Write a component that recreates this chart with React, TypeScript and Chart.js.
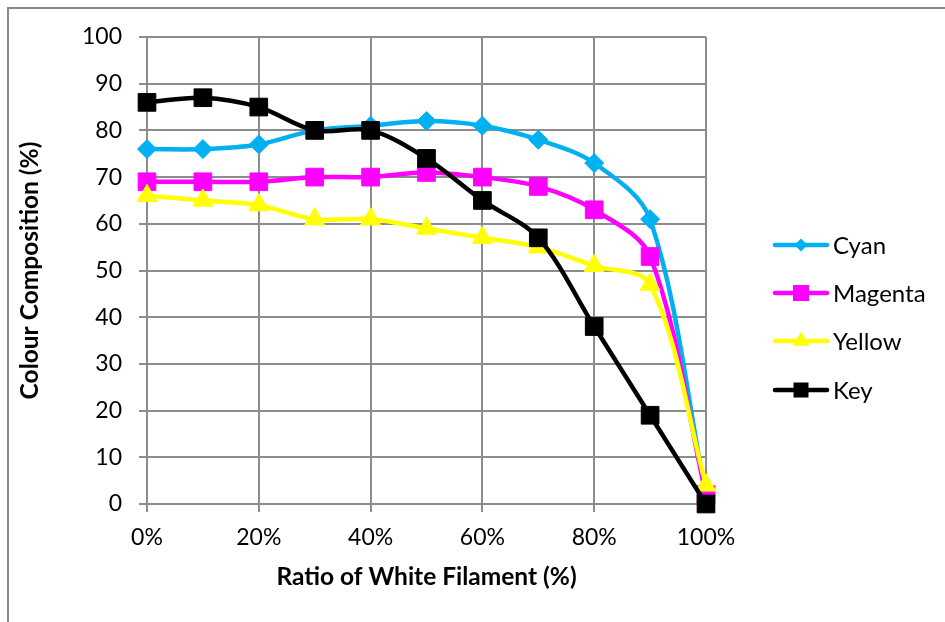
import React, { useEffect, useRef } from "react";
import { Chart, registerables } from "chart.js";

Chart.register(...registerables);

const ratios = [0, 10, 20, 30, 40, 50, 60, 70, 80, 90, 100];
const cyan = [76, 76, 77, 80, 81, 82, 81, 78, 73, 61, 2];
const magenta = [69, 69, 69, 70, 70, 71, 70, 68, 63, 53, 2];
const yellow = [66, 65, 64, 61, 61, 59, 57, 55, 51, 47, 4];
const key = [86, 87, 85, 80, 80, 74, 65, 57, 38, 19, 0];
const seriesNames = ["Cyan", "Magenta", "Yellow", "Key"];
const xTitle = "Ratio of White Filament (%)";
const yTitle = "Colour Composition (%)";

const FONT = "Lato, 'Open Sans', sans-serif";
const GRID = "#8c8c8c";

function drawMarker(ctx: CanvasRenderingContext2D, style: string, x: number, y: number, r: number) {
  ctx.beginPath();
  if (style === "rectRot") {
    ctx.moveTo(x - r, y);
    ctx.lineTo(x, y - r);
    ctx.lineTo(x + r, y);
    ctx.lineTo(x, y + r);
  } else if (style === "rect") {
    ctx.rect(x - r, y - r, 2 * r, 2 * r);
  } else {
    const h = r * 1.5;
    const w = r * Math.sqrt(3);
    ctx.moveTo(x, y - r);
    ctx.lineTo(x + w / 2, y - r + h);
    ctx.lineTo(x - w / 2, y - r + h);
  }
  ctx.closePath();
  ctx.fill();
}

const legendPlugin = {
  id: "customLegend",
  afterDraw(chart: any) {
    const ctx: CanvasRenderingContext2D = chart.ctx;
    const rows = [245, 293, 341, 390];
    const styles = ["rectRot", "rect", "triangle", "rect"];
    const sizes = [6.5, 8, 9.5, 7.5];
    chart.data.datasets.forEach((ds: any, i: number) => {
      const y = rows[i];
      ctx.save();
      ctx.strokeStyle = ds.borderColor;
      ctx.fillStyle = ds.backgroundColor;
      ctx.lineWidth = 4.5;
      ctx.lineCap = "round";
      ctx.beginPath();
      ctx.moveTo(775, y);
      ctx.lineTo(827, y);
      ctx.stroke();
      drawMarker(ctx, styles[i], 801, y, sizes[i]);
      ctx.fillStyle = "#000";
      ctx.font = `24px ${FONT}`;
      ctx.textBaseline = "middle";
      ctx.textAlign = "left";
      ctx.fillText(ds.label, 833, y + 1);
      ctx.restore();
    });
  },
};

export default function App() {
  const ref = useRef<HTMLCanvasElement | null>(null);

  useEffect(() => {
    document.body.style.margin = "0";
    const canvas = ref.current;
    if (!canvas) return;
    const mk = (label: string, values: number[], color: string, style: string, r: number, order: number) => ({
      label,
      data: ratios.map((x, i) => ({ x, y: values[i] })),
      borderColor: color,
      backgroundColor: color,
      pointBackgroundColor: color,
      pointBorderColor: color,
      pointBorderWidth: 1,
      pointStyle: style,
      pointRadius: r,
      pointHoverRadius: r,
      borderWidth: 4.5,
      tension: 0.33,
      clip: false,
      order,
    });
    const chart = new Chart(canvas, {
      type: "line",
      data: {
        datasets: [
          mk(seriesNames[0], cyan, "#00b0f0", "rectRot", 9.5, 4),
          mk(seriesNames[1], magenta, "#ff00ff", "rect", 12.5, 3),
          mk(seriesNames[2], yellow, "#ffff00", "triangle", 11.5, 2),
          mk(seriesNames[3], key, "#000000", "rect", 12.5, 1),
        ],
      },
      options: {
        responsive: false,
        animation: false,
        layout: { padding: { top: 37, right: 239, left: 0, bottom: 0 } },
        plugins: { legend: { display: false }, tooltip: { enabled: false } },
        scales: {
          x: {
            type: "linear",
            min: 0,
            max: 100,
            grid: { color: GRID, lineWidth: 2, tickLength: 8, drawTicks: true },
            border: { color: GRID, width: 2 },
            ticks: {
              stepSize: 20,
              color: "#000",
              font: { family: FONT, size: 23 },
              padding: 12,
              maxRotation: 0,
              callback: (v: any) => `${v}%`,
            },
            title: {
              display: true,
              text: xTitle,
              color: "#000",
              font: { family: FONT, size: 24.5, weight: "bold" },
              padding: { top: 4, bottom: 30 },
            },
            afterFit(scale: any) {
              scale.height = 118;
            },
          },
          y: {
            min: 0,
            max: 100,
            grid: { color: GRID, lineWidth: 2, tickLength: 8, drawTicks: true },
            border: { color: GRID, width: 2 },
            ticks: { stepSize: 10, color: "#000", font: { family: FONT, size: 23 }, padding: 17 },
            title: {
              display: true,
              text: yTitle,
              color: "#000",
              font: { family: FONT, size: 24.5, weight: "bold" },
              padding: { top: 15, bottom: 4 },
            },
            afterFit(scale: any) {
              scale.width = 147;
            },
          },
        },
      },
      plugins: [legendPlugin],
    } as any);
    return () => chart.destroy();
  }, []);

  return (
    <div style={{ position: "relative", width: 945, height: 622, overflow: "hidden", background: "#fff" }}>
      <canvas ref={ref} width={945} height={622} style={{ display: "block", position: "absolute", left: 0, top: 0 }} />
      <div
        style={{
          position: "absolute",
          left: 7,
          top: 7,
          width: 1200,
          height: 1200,
          borderLeft: "2px solid #898989",
          borderTop: "2px solid #898989",
          pointerEvents: "none",
        }}
      />
    </div>
  );
}
